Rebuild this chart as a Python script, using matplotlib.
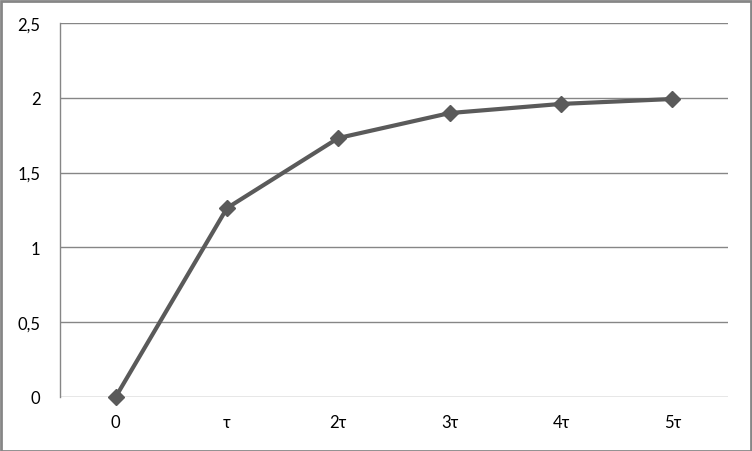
import matplotlib
matplotlib.use("Agg")
import matplotlib.pyplot as plt
from matplotlib.patches import Rectangle

categories = ["0", "τ", "2τ", "3τ", "4τ", "5τ"]
values = [0, 1.263, 1.731, 1.898, 1.959, 1.992]
yticks = [0, 0.5, 1, 1.5, 2, 2.5]
ytick_labels = ["0", "0,5", "1", "1,5", "2", "2,5"]

plt.rcParams['font.family'] = ['Lato', 'DejaVu Sans']

W, H = 752, 452
fig = plt.figure(figsize=(W/100, H/100), dpi=100)
ax = fig.add_axes([60/W, 1 - 398/H, (728-60)/W, (398-24)/H])

x = list(range(len(categories)))
ax.plot(x, values, color="#5a5a5a", linewidth=3, marker="D", markersize=8.5,
        markerfacecolor="#5a5a5a", markeredgecolor="#5a5a5a", zorder=3, clip_on=False)

ax.set_xlim(-0.5, len(categories) - 0.5)
ax.set_ylim(0, 2.5)
ax.set_yticks(yticks)
ax.set_yticklabels(ytick_labels)
ax.set_xticks(x)
ax.set_xticklabels(categories)
ax.tick_params(axis='both', length=0, labelsize=12, colors="#000000")
ax.tick_params(axis='y', pad=14)
ax.tick_params(axis='x', pad=12)
for yv in yticks:
    ax.axhline(yv, color="#868686", linewidth=1, zorder=1)
for s in ["top", "right", "bottom"]:
    ax.spines[s].set_visible(False)
ax.spines["left"].set_color("#868686")
ax.spines["left"].set_linewidth(1)

fig.patches.append(Rectangle((0.5/W, 0.5/H), 1 - 2/W, 1 - 2/H, transform=fig.transFigure,
                             fill=False, edgecolor="#868686", linewidth=2))

fig.savefig("out.png", dpi=100)
